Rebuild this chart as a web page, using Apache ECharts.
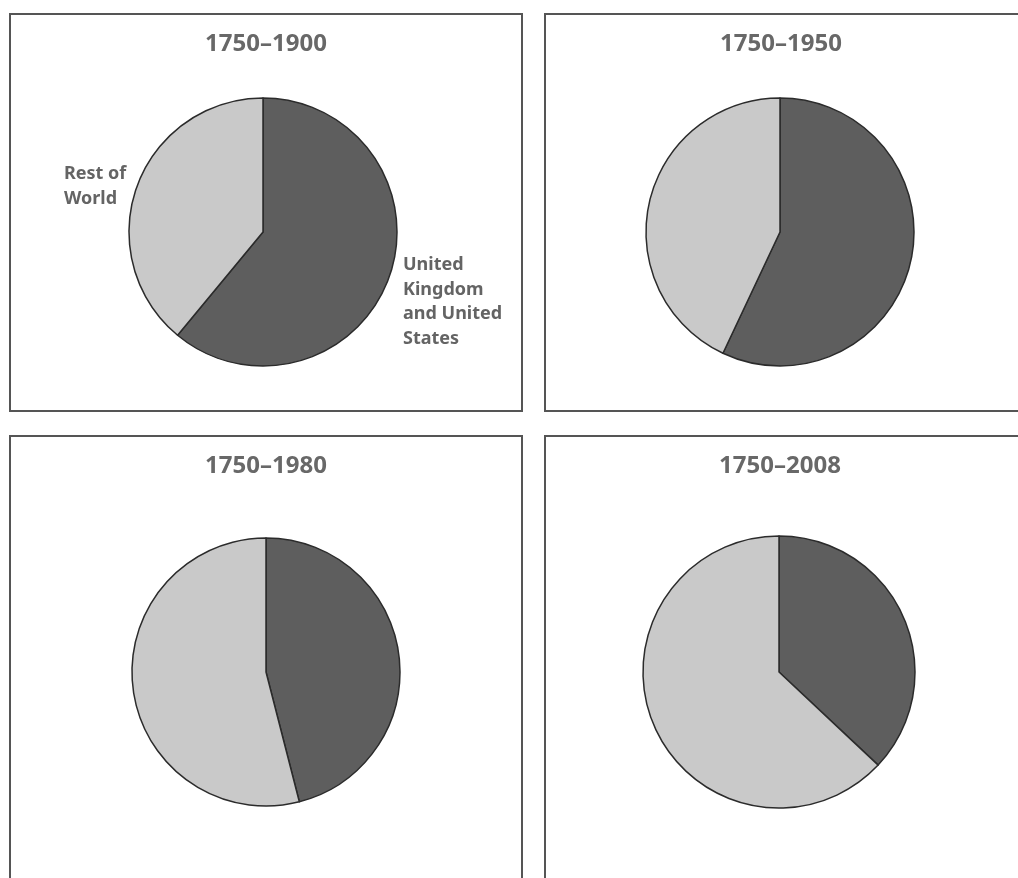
<!DOCTYPE html>
<html>
<head>
<meta charset="utf-8">
<script src="https://cdn.jsdelivr.net/npm/echarts@6/dist/echarts.min.js"></script>
<style>
  html, body { margin: 0; padding: 0; background: #ffffff; }
  #chart { width: 1018px; height: 878px; }
</style>
</head>
<body>
<div id="chart"></div>
<script>
const periods = ['1750–1900', '1750–1950', '1750–1980', '1750–2008'];
const categories = ['United Kingdom and United States', 'Rest of World'];
const ukUsShare = [61, 57, 46, 37];
const restShare = [39, 43, 54, 63];

const panels = [
  { x: 10, y: 14, w: 512, h: 397, cx: 263, cy: 232, r: 134, tx: 261 },
  { x: 545, y: 14, w: 490, h: 397, cx: 780, cy: 232, r: 134, tx: 776 },
  { x: 10, y: 436, w: 512, h: 470, cx: 266, cy: 672, r: 134, tx: 261 },
  { x: 545, y: 436, w: 490, h: 470, cx: 779, cy: 672, r: 136, tx: 775 }
];

const FONT = '"Noto Sans", "Open Sans", sans-serif';
const darkColor = '#5e5e5e';
const lightColor = '#c9c9c9';

const chart = echarts.init(document.getElementById('chart'), null, { renderer: 'canvas' });

const titles = periods.map((p, i) => ({
  text: p,
  left: panels[i].tx,
  top: panels[i].y + 13,
  textAlign: 'center',
  textStyle: { fontFamily: FONT, fontSize: 24, fontWeight: 'bold', color: '#686868' }
}));

const series = periods.map((p, i) => ({
  type: 'pie',
  name: p,
  center: [panels[i].cx, panels[i].cy],
  radius: panels[i].r,
  startAngle: 90,
  clockwise: true,
  silent: true,
  animation: false,
  label: { show: false },
  labelLine: { show: false },
  emphasis: { disabled: true },
  itemStyle: { borderColor: '#2b2b2b', borderWidth: 1.5 },
  data: [
    { name: categories[0], value: ukUsShare[i], itemStyle: { color: darkColor } },
    { name: categories[1], value: restShare[i], itemStyle: { color: lightColor } }
  ]
}));

const graphics = panels.map(pn => ({
  type: 'rect',
  silent: true,
  shape: { x: pn.x, y: pn.y, width: pn.w, height: pn.h },
  style: { fill: null, stroke: '#555555', lineWidth: 2 }
}));

const labelStyle = { fontFamily: FONT, fontSize: 18, fontWeight: 'bold', fill: '#646464', lineHeight: 24.5 };
graphics.push({
  type: 'text', silent: true, left: 64, top: 162,
  style: Object.assign({ text: 'Rest of\nWorld' }, labelStyle)
});
graphics.push({
  type: 'text', silent: true, left: 403, top: 253,
  style: Object.assign({ text: 'United\nKingdom\nand United\nStates' }, labelStyle)
});

chart.setOption({
  backgroundColor: '#ffffff',
  animation: false,
  title: titles,
  series: series,
  graphic: graphics
});
</script>
</body>
</html>
